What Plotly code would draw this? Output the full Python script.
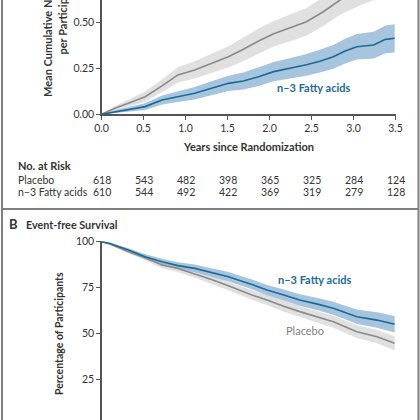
import plotly.graph_objects as go

W = H = 420

# ---------------- Panel A data (mean cumulative no. of events) ----------------
a_plac_t = [0, 0.16, 0.32, 0.52, 0.72, 0.91, 1.11, 1.31, 1.51, 1.69, 1.87, 2.05, 2.24, 2.44, 2.64, 2.84, 3.04, 3.24, 3.49]
a_plac_v = [0, 0.033, 0.06, 0.096, 0.155, 0.215, 0.242, 0.278, 0.314, 0.355, 0.40, 0.44, 0.47, 0.505, 0.56, 0.624, 0.67, 0.71, 0.77]
a_plac_lo = [0, 0.021, 0.04, 0.068, 0.12, 0.173, 0.195, 0.225, 0.256, 0.291, 0.332, 0.37, 0.398, 0.43, 0.482, 0.544, 0.587, 0.624, 0.68]
a_plac_hi = [0, 0.045, 0.08, 0.124, 0.19, 0.257, 0.289, 0.331, 0.372, 0.419, 0.468, 0.51, 0.542, 0.58, 0.638, 0.704, 0.753, 0.796, 0.86]

a_n3_t = [0, 0.16, 0.40, 0.52, 0.72, 0.91, 1.11, 1.31, 1.51, 1.69, 1.87, 2.05, 2.24, 2.44, 2.60, 2.76, 2.90, 3.04, 3.24, 3.38, 3.49]
a_n3_v = [0, 0.014, 0.033, 0.042, 0.078, 0.096, 0.115, 0.142, 0.169, 0.182, 0.205, 0.233, 0.25, 0.27, 0.29, 0.314, 0.345, 0.369, 0.378, 0.409, 0.415]
a_n3_lo = [0, 0.006, 0.018, 0.024, 0.054, 0.067, 0.081, 0.104, 0.127, 0.136, 0.155, 0.18, 0.194, 0.211, 0.228, 0.249, 0.277, 0.299, 0.305, 0.333, 0.338]
a_n3_hi = [0, 0.022, 0.048, 0.06, 0.102, 0.125, 0.149, 0.18, 0.211, 0.228, 0.255, 0.286, 0.306, 0.329, 0.352, 0.379, 0.413, 0.439, 0.451, 0.485, 0.492]

# ---------------- Panel B data (event-free survival, %) ----------------
b_t = [0, 0.1, 0.32, 0.52, 0.72, 0.91, 1.11, 1.31, 1.51, 1.79, 1.97, 2.16, 2.36, 2.56, 2.76, 2.90, 3.04, 3.28, 3.49]
b_n3_v = [100, 99, 95.5, 91.8, 89.1, 87, 85.5, 83.2, 81, 76.8, 73.7, 71.2, 68.3, 66.2, 63.8, 61.5, 59.2, 57.4, 55.1]
b_n3_lo = [100, 98.6, 94.5, 90.4, 87.4, 85.1, 83.4, 80.9, 78.5, 74.1, 70.9, 68.2, 65.2, 62.9, 60.3, 57.8, 55.3, 53.2, 50.6]
b_n3_hi = [100, 99.4, 96.5, 93.2, 90.8, 88.9, 87.6, 85.5, 83.5, 79.5, 76.5, 74.2, 71.4, 69.5, 67.3, 65.2, 63.1, 61.6, 59.6]
b_plac_v = [100, 98.8, 94.6, 91.3, 87.3, 85.5, 82.5, 79.5, 76, 71, 68.3, 65, 62, 59.3, 56.5, 53.8, 51.1, 48.4, 44.8]
b_plac_lo = [100, 98.4, 93.6, 89.9, 85.6, 83.6, 80.4, 77.2, 73.6, 68.4, 65.6, 62.1, 59, 56.2, 53.2, 50.4, 47.6, 44.8, 41]
b_plac_hi = [100, 99.2, 95.6, 92.7, 89, 87.4, 84.6, 81.8, 78.4, 73.6, 71, 67.9, 65, 62.4, 59.8, 57.2, 54.6, 52, 48.6]

# ---------------- Axis ticks & risk table ----------------
x_ticks = [0, 0.5, 1.0, 1.5, 2.0, 2.5, 3.0, 3.5]
x_tick_labels = ["0.0", "0.5", "1.0", "1.5", "2.0", "2.5", "3.0", "3.5"]
a_y_ticks = [0, 0.25, 0.5, 0.75]
a_y_tick_labels = ["0.00", "0.25", "0.50", "0.75"]
b_y_ticks = [0, 25, 50, 75, 100]
b_y_tick_labels = ["0", "25", "50", "75", "100"]
risk_times = [0, 0.5, 1.0, 1.5, 2.0, 2.5, 3.0, 3.5]
risk_placebo = [618, 543, 482, 398, 365, 325, 284, 124]
risk_n3 = [610, 544, 492, 422, 369, 319, 279, 128]

BLUE = "#1c6a96"
BLUE_BAND = "rgba(150,186,215,0.85)"
GRAY = "#8a8a8a"
GRAY_BAND = "rgba(222,222,222,0.95)"
TXT = "#333333"
AX = "#555555"
FONT = "Lato"
N3 = "n\u20133 Fatty acids"


def px(x):
    return x / W


def py(y):
    return 1 - y / H


fig = go.Figure()


def band(t, lo, hi, color, xa, ya):
    fig.add_trace(go.Scatter(x=t, y=lo, mode="lines", line=dict(width=0), hoverinfo="skip",
                             showlegend=False, xaxis=xa, yaxis=ya))
    fig.add_trace(go.Scatter(x=t, y=hi, mode="lines", line=dict(width=0), fill="tonexty",
                             fillcolor=color, hoverinfo="skip", showlegend=False, xaxis=xa, yaxis=ya))


def line(t, v, color, xa, ya):
    fig.add_trace(go.Scatter(x=t, y=v, mode="lines", line=dict(color=color, width=1.6),
                             showlegend=False, xaxis=xa, yaxis=ya))


# Panel A
band(a_plac_t, a_plac_lo, a_plac_hi, GRAY_BAND, "x", "y")
band(a_n3_t, a_n3_lo, a_n3_hi, BLUE_BAND, "x", "y")
line(a_plac_t, a_plac_v, GRAY, "x", "y")
line(a_n3_t, a_n3_v, BLUE, "x", "y")

# Panel B
band(b_t, b_plac_lo, b_plac_hi, GRAY_BAND, "x2", "y2")
band(b_t, b_n3_lo, b_n3_hi, BLUE_BAND, "x2", "y2")
line(b_t, b_plac_v, GRAY, "x2", "y2")
line(b_t, b_n3_v, BLUE, "x2", "y2")

x_dom = [px(101.5), px(395.5)]
tickfont = dict(family=FONT, size=10.5, color=TXT)
common = dict(showline=True, linecolor=AX, linewidth=1.2, ticks="outside", ticklen=4,
              tickcolor=AX, tickwidth=1.2, showgrid=False, zeroline=False, tickfont=tickfont,
              automargin=False)

fig.update_layout(
    template="none",
    width=W, height=H,
    margin=dict(l=0, r=0, t=0, b=0, autoexpand=False),
    paper_bgcolor="white", plot_bgcolor="white",
    font=dict(family=FONT, color=TXT),
    xaxis=dict(domain=x_dom, range=[0, 3.5], tickvals=x_ticks, ticktext=x_tick_labels,
               anchor="y", **common),
    yaxis=dict(domain=[py(114.3), 1.0], range=[0, 0.624], tickvals=a_y_ticks, ticktext=a_y_tick_labels,
               anchor="x", **common),
    xaxis2=dict(domain=x_dom, range=[0, 3.5], showline=False, showticklabels=False, ticks="",
                showgrid=False, zeroline=False, anchor="y2", automargin=False),
    yaxis2=dict(domain=[0.0, py(241.15)], range=[3.1, 100.3], tickvals=b_y_ticks, ticktext=b_y_tick_labels,
                anchor="x2", **common),
)

ann = []


def text(x, y, s, size=10.5, bold=False, color=TXT, xanchor="center", yanchor="middle", angle=0, xref="paper"):
    ann.append(dict(x=x, y=y, xref=xref, yref="paper", text=("<b>%s</b>" % s) if bold else s,
                    showarrow=False, xanchor=xanchor, yanchor=yanchor, textangle=angle,
                    font=dict(family=FONT, size=size, color=color)))


# Panel A titles
text(px(47), py(99), "Mean Cumulative No. of Events", size=11, bold=True, yanchor="bottom", angle=-90)
text(px(62), py(57), "per Participant", size=11, bold=True, yanchor="bottom", angle=-90)
text(px(248), py(146), "Years since Randomization", size=11, bold=True)
text(px(313.5), py(87), N3, size=11, bold=True, color=BLUE)

# Risk table
text(px(16), py(166), "No. at Risk", size=11, bold=True, xanchor="left")
text(px(16), py(180), "Placebo", xanchor="left")
text(px(16), py(192), N3, xanchor="left")
for t, a, b in zip(risk_times, risk_placebo, risk_n3):
    text(t, py(180), str(a), xref="x")
    text(t, py(192), str(b), xref="x")

# Panel B
text(px(7), py(224), "B", size=13, bold=True, xanchor="left")
text(px(24), py(224), "Event-free Survival", size=10.8, bold=True, xanchor="left")
text(px(59), py(334), "Percentage of Participants", size=10.5, bold=True, angle=-90)
text(px(314.5), py(279), N3, size=11, bold=True, color=BLUE)
text(px(304.5), py(330), "Placebo", size=11, color="#808080")

fig.update_layout(annotations=ann)

# Frame lines
FR = "#808080"
fig.add_shape(type="line", xref="paper", yref="paper", x0=px(2), x1=px(2), y0=0, y1=1,
              line=dict(color=FR, width=2))
fig.add_shape(type="line", xref="paper", yref="paper", x0=px(418.5), x1=px(418.5), y0=0, y1=1,
              line=dict(color=FR, width=2))
fig.add_shape(type="line", xref="paper", yref="paper", x0=px(2), x1=px(418.5), y0=py(209), y1=py(209),
              line=dict(color=FR, width=2))

fig.write_html("out.html", config={"displayModeBar": False, "staticPlot": True},
               post_script="document.body.style.margin='0';document.body.style.overflow='hidden';")
